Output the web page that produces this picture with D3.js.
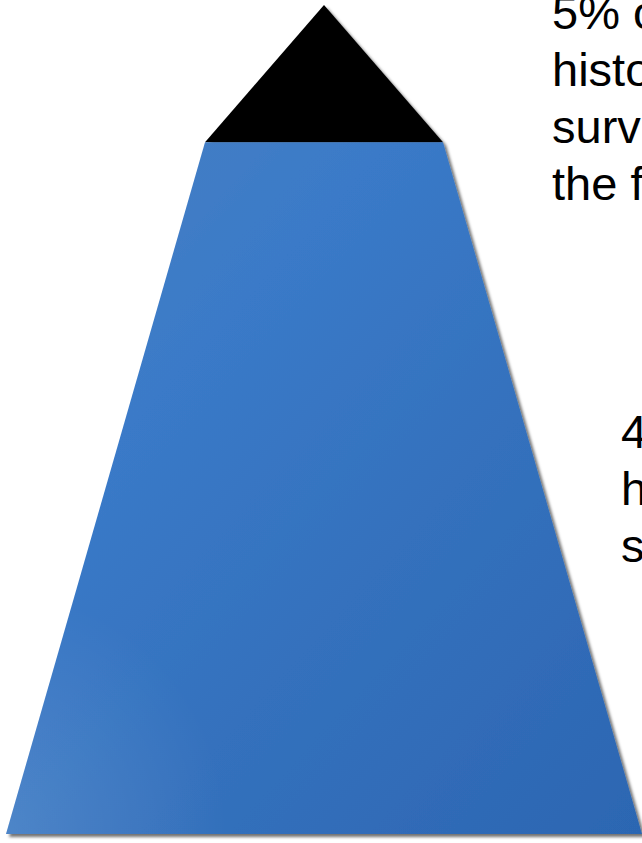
<!DOCTYPE html>
<html><head><meta charset="utf-8">
<script src="https://cdn.jsdelivr.net/npm/d3@7"></script>
<style>html,body{margin:0;padding:0;background:#fff;overflow:hidden}</style>
</head><body><svg id="c" width="642" height="843"></svg>
<script>
// Data
const layers = ["top", "base"];
const shares = [5, 95];               // percent of pyramid
const layerColors = ["#000000", "url(#blueGrad)"];
const noteTop = ["5% o", "histo", "surv", "the f"];
const noteBase = ["4", "h", "s"];

const svg = d3.select("#c");
const defs = svg.append("defs");
const f = defs.append("filter").attr("id","sh").attr("x","-10%").attr("y","-10%").attr("width","130%").attr("height","130%");
f.append("feDropShadow").attr("dx",3).attr("dy",3).attr("stdDeviation",1.8).attr("flood-color","#000").attr("flood-opacity",0.55);

const g = defs.append("linearGradient").attr("id","blueGrad").attr("x1","0").attr("y1","0").attr("x2","1").attr("y2","1");
[["0%","#4a80c2"],["30%","#3a7ac8"],["60%","#3471bd"],["100%","#2c66b2"]].forEach(s=>g.append("stop").attr("offset",s[0]).attr("stop-color",s[1]));
const rg = defs.append("radialGradient").attr("id","sheen").attr("cx","0.0").attr("cy","1.0").attr("r","0.35");
rg.append("stop").attr("offset","0%").attr("stop-color","#ffffff").attr("stop-opacity",0.12);
rg.append("stop").attr("offset","100%").attr("stop-color","#ffffff").attr("stop-opacity",0);

// scales
const cx = 324;
const y = d3.scaleLinear().domain([0, 1]).range([5, 834]);
// vertical boundary chosen so the apex area is shares[0]% of the whole
const bounds = [0, 0.1655, 1];
const halfW = d3.scaleLinear().domain([0, 0.1655, 1]).range([0, 119, 318]);

const polys = layers.map((k,i)=>{
  const a = bounds[i], b = bounds[i+1];
  return [[cx-halfW(a), y(a)], [cx+halfW(a), y(a)], [cx+halfW(b), y(b)], [cx-halfW(b), y(b)]];
});
const line = d3.line();
svg.selectAll("path.layer").data(polys).join("path")
  .attr("class","layer")
  .attr("d", d=>line(d)+"Z")
  .attr("fill",(d,i)=>layerColors[i])
  .attr("filter","url(#sh)");
svg.append("path").attr("d", line(polys[1])+"Z").attr("fill","url(#sheen)");

function note(lines, x, y0, lh){
  svg.append("g").selectAll("text").data(lines).join("text")
    .attr("x", x).attr("y",(d,i)=>y0+i*lh)
    .attr("font-family","Liberation Sans, Arial, sans-serif")
    .attr("font-size",47).attr("fill","#000").text(d=>d);
}
note(noteTop, 552, 29, 57);
note(noteBase, 621, 448, 57);
</script></body></html>
